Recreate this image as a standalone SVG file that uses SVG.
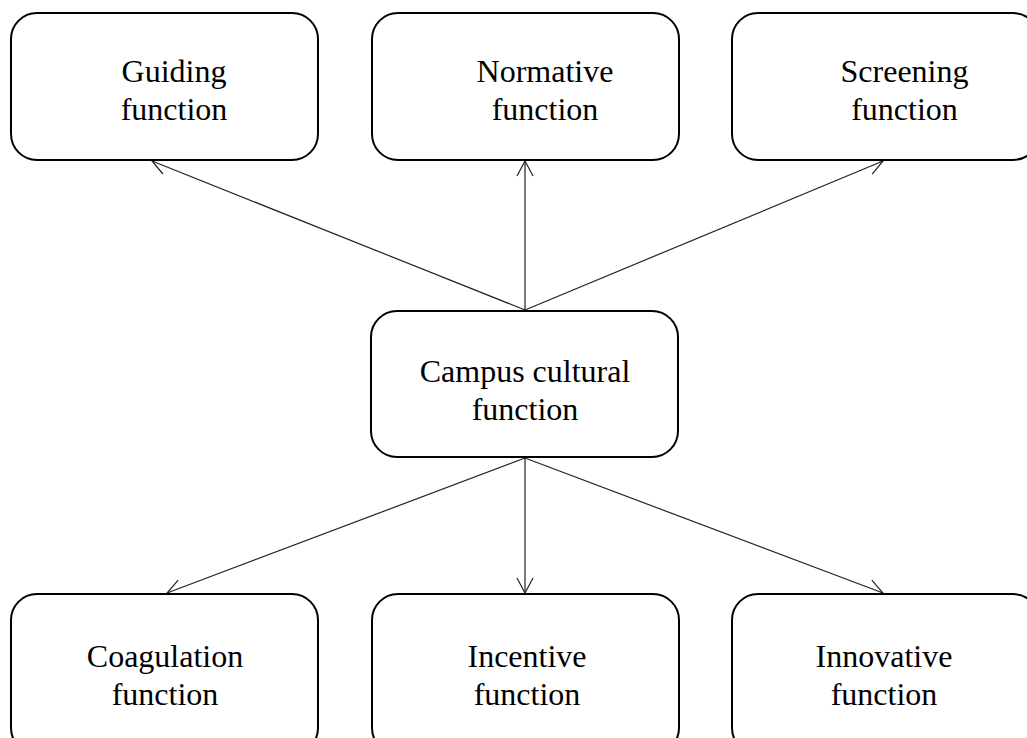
<svg xmlns="http://www.w3.org/2000/svg" width="1027" height="738" viewBox="0 0 1027 738">
<style>
.box{fill:#fff;stroke:#000;stroke-width:2}
.lbl{font-family:"Liberation Serif","Times New Roman",serif;font-size:32px;fill:#000;text-anchor:middle}
.con{stroke:#222;stroke-width:1.2;fill:none;marker-end:url(#ah)}
</style>
<defs>
<marker id="ah" viewBox="0 0 20 20" refX="16" refY="10" markerWidth="20" markerHeight="20" markerUnits="userSpaceOnUse" orient="auto">
<path d="M1,2 L16,10 L1,18" fill="none" stroke="#222" stroke-width="1.2"/>
</marker>
</defs>
<rect width="1027" height="738" fill="#fff"/>
<g id="connectors">
<line class="con" x1="525" y1="310" x2="152" y2="161"/>
<line class="con" x1="525" y1="310" x2="525" y2="161"/>
<line class="con" x1="525" y1="310" x2="883" y2="161"/>
<line class="con" x1="525" y1="458" x2="167" y2="593"/>
<line class="con" x1="525" y1="458" x2="525" y2="593"/>
<line class="con" x1="525" y1="458" x2="883" y2="593"/>
</g>
<g id="guiding">
<rect class="box" x="11" y="13" width="307" height="147" rx="26"/>
<text class="lbl" x="174" y="82">Guiding</text>
<text class="lbl" x="174" y="120">function</text>
</g>
<g id="normative">
<rect class="box" x="372" y="13" width="307" height="147" rx="26"/>
<text class="lbl" x="545" y="82">Normative</text>
<text class="lbl" x="545" y="120">function</text>
</g>
<g id="screening">
<rect class="box" x="732" y="13" width="307" height="147" rx="26"/>
<text class="lbl" x="904.5" y="82">Screening</text>
<text class="lbl" x="904.5" y="120">function</text>
</g>
<g id="campus">
<rect class="box" x="371" y="311" width="307" height="146" rx="26"/>
<text class="lbl" x="525" y="382">Campus cultural</text>
<text class="lbl" x="525" y="420">function</text>
</g>
<g id="coagulation">
<rect class="box" x="11" y="594" width="307" height="160" rx="26"/>
<text class="lbl" x="165" y="667">Coagulation</text>
<text class="lbl" x="165" y="705">function</text>
</g>
<g id="incentive">
<rect class="box" x="372" y="594" width="307" height="160" rx="26"/>
<text class="lbl" x="527" y="667">Incentive</text>
<text class="lbl" x="527" y="705">function</text>
</g>
<g id="innovative">
<rect class="box" x="732" y="594" width="307" height="160" rx="26"/>
<text class="lbl" x="884" y="667">Innovative</text>
<text class="lbl" x="884" y="705">function</text>
</g>
</svg>
